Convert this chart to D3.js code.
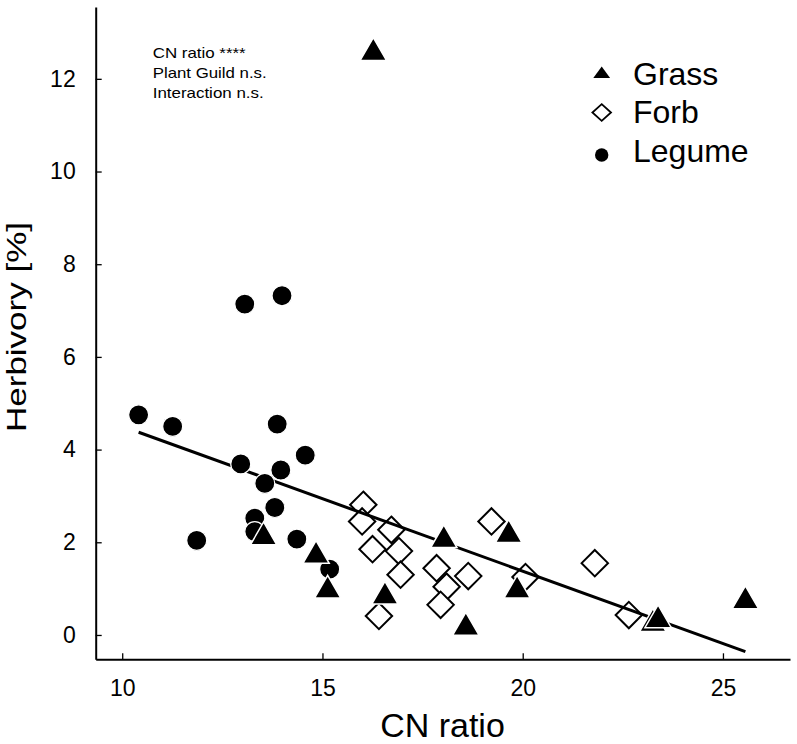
<!DOCTYPE html>
<html>
<head>
<meta charset="utf-8">
<script src="https://cdn.jsdelivr.net/npm/d3@7/dist/d3.min.js"></script>
<style>
  html, body { margin: 0; padding: 0; background: #fff; }
  svg { display: block; font-family: "Liberation Sans", Arial, sans-serif; }
</style>
</head>
<body>
<svg id="chart" width="797" height="744"></svg>
<script>
// ---- data ----
const grassCN   = [16.27, 13.53, 14.84, 15.13, 16.56, 18.03, 19.65, 19.86, 18.58, 23.25, 23.38, 25.56];
const grassHerb = [12.56, 2.11, 1.71, 0.96, 0.83, 2.05, 2.16, 0.96, 0.16, 0.24, 0.32, 0.73];

const forbCN    = [16.02, 15.99, 16.72, 16.25, 16.91, 16.95, 16.41, 17.85, 18.10, 18.64, 17.95, 19.22, 20.07, 21.80, 22.65];
const forbHerb  = [2.81, 2.45, 2.27, 1.85, 1.81, 1.30, 0.41, 1.44, 1.04, 1.27, 0.65, 2.45, 1.25, 1.55, 0.43];

const legumeCN   = [13.06, 13.99, 10.41, 11.26, 13.87, 14.57, 12.96, 13.96, 13.56, 13.81, 13.31, 13.31, 11.86, 14.36, 15.18];
const legumeHerb = [7.14, 7.32, 4.75, 4.50, 4.55, 3.88, 3.69, 3.56, 3.27, 2.75, 2.52, 2.23, 2.04, 2.07, 1.42];

const regIntercept = 7.628;
const regSlope = -0.3125;
const regRange = [10.41, 25.56];

const xTicks = [10, 15, 20, 25];
const yTicks = [0, 2, 4, 6, 8, 10, 12];

const legendLabels = ["Grass", "Forb", "Legume"];
const statLines = ["CN ratio ****", "Plant Guild n.s.", "Interaction n.s."];

// ---- drawing ----
const svg = d3.select("#chart");
const x = d3.scaleLinear().domain([9.338, 26.674]).range([95.7, 790]);
const y = d3.scaleLinear().domain([-0.525, 13.55]).range([659.3, 7]);

const zip = (a, b) => a.map((v, i) => ({x: v, y: b[i]}));
const grass = zip(grassCN, grassHerb);
const forb = zip(forbCN, forbHerb);
const legume = zip(legumeCN, legumeHerb);

// axes
const yAxis = d3.axisLeft(y).tickValues(yTicks).tickSizeInner(-6).tickSizeOuter(0).tickPadding(20);
const xAxis = d3.axisBottom(x).tickValues(xTicks).tickSizeInner(-6).tickSizeOuter(0).tickPadding(20);

const gy = svg.append("g").attr("transform", `translate(${x.range()[0]},0)`).call(yAxis);
const gx = svg.append("g").attr("transform", `translate(0,${y.range()[0]})`).call(xAxis);
[gx, gy].forEach(g => {
  g.select(".domain").attr("stroke", "#000").attr("stroke-width", 2);
  g.selectAll(".tick line").attr("stroke", "#000").attr("stroke-width", 1.3);
  g.selectAll(".tick text").attr("fill", "#000").attr("font-size", 23)
   .attr("font-family", "Liberation Sans, Arial, sans-serif");
});

// axis titles
svg.append("text")
  .attr("x", 442.5).attr("y", 736.5)
  .attr("text-anchor", "middle")
  .attr("font-size", 34)
  .text("CN ratio");

svg.append("text")
  .attr("transform", "translate(26,327) rotate(-90)")
  .attr("text-anchor", "middle")
  .attr("font-size", 28)
  .attr("textLength", 210)
  .attr("lengthAdjust", "spacingAndGlyphs")
  .text("Herbivory [%]");

// forb diamonds
const dSize = 13.2;
svg.append("g").selectAll("path").data(forb).join("path")
  .attr("d", d => `M${x(d.x)},${y(d.y) - dSize}L${x(d.x) + dSize},${y(d.y)}L${x(d.x)},${y(d.y) + dSize}L${x(d.x) - dSize},${y(d.y)}Z`)
  .attr("fill", "#fff").attr("stroke", "#000").attr("stroke-width", 2);

// regression line
svg.append("line")
  .attr("x1", x(regRange[0])).attr("y1", y(regIntercept + regSlope * regRange[0]))
  .attr("x2", x(regRange[1])).attr("y2", y(regIntercept + regSlope * regRange[1]))
  .attr("stroke", "#000").attr("stroke-width", 3);

// legume circles
svg.append("g").selectAll("circle").data(legume).join("circle")
  .attr("cx", d => x(d.x)).attr("cy", d => y(d.y)).attr("r", 10)
  .attr("fill", "#000").attr("stroke", "#fff").attr("stroke-width", 1.2);

// grass triangles
const tri = d3.symbol().type(d3.symbolTriangle).size(300);
svg.append("g").selectAll("path").data(grass).join("path")
  .attr("transform", d => `translate(${x(d.x)},${y(d.y)})`)
  .attr("d", tri)
  .attr("fill", "#000").attr("stroke", "#fff").attr("stroke-width", 1.5);

// stats annotation
const statWidths = [93, 114, 111];
svg.append("g").selectAll("text").data(statLines).join("text")
  .attr("x", 152.7).attr("y", (d, i) => 57.7 + i * 20)
  .attr("font-size", 15)
  .attr("textLength", (d, i) => statWidths[i])
  .attr("lengthAdjust", "spacingAndGlyphs")
  .text(d => d);

// legend
const lg = svg.append("g");
const lx = 601.7;
const lys = [73, 112.5, 155];
lg.append("path").attr("d", `M${lx},${lys[0] - 6.5}L${lx + 8.4},${lys[0] + 5}L${lx - 8.4},${lys[0] + 5}Z`).attr("fill", "#000");
lg.append("path").attr("d", `M${lx},${lys[1] - 8.3}L${lx + 9.3},${lys[1]}L${lx},${lys[1] + 8.3}L${lx - 9.3},${lys[1]}Z`)
  .attr("fill", "#fff").attr("stroke", "#000").attr("stroke-width", 1.8);
lg.append("circle").attr("cx", lx).attr("cy", lys[2]).attr("r", 6.7).attr("fill", "#000");
lg.selectAll("text").data(legendLabels).join("text")
  .attr("x", 633).attr("y", (d, i) => [85, 123.3, 161.7][i])
  .attr("font-size", 32)
  .text(d => d);
</script>
</body>
</html>
